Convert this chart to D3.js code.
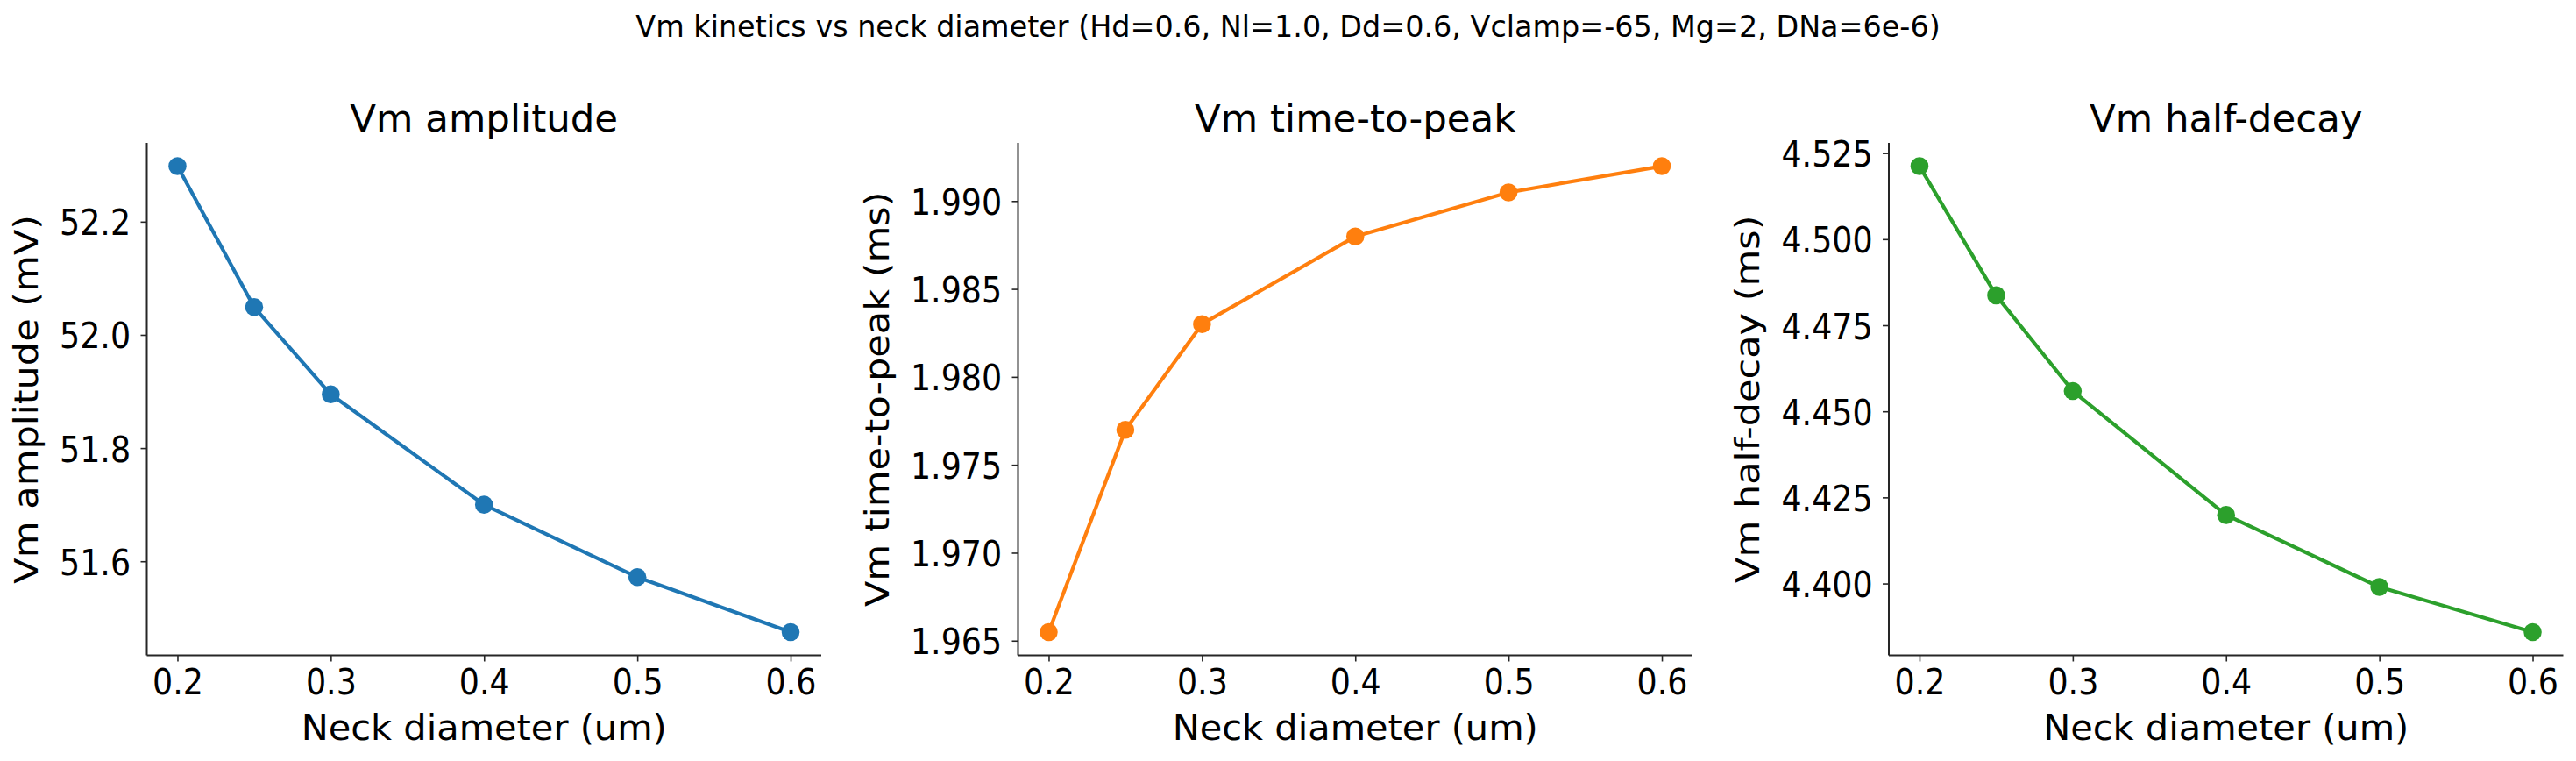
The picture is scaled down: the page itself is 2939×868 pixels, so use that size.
<!DOCTYPE html>
<html>
<head>
<meta charset="utf-8">
<script src="https://cdn.jsdelivr.net/npm/d3@7"></script>
<style>
  body { margin: 0; background: #fff; }
  svg { display: block; font-family: "DejaVu Sans", sans-serif; }
</style>
</head>
<body>
<script>
// neck diameters (um), shared by all three panels
const neckDiameter = [0.2, 0.25, 0.3, 0.4, 0.5, 0.6];
const xTickValues = [0.2, 0.3, 0.4, 0.5, 0.6];

// values
const amplitude = [52.298, 52.049, 51.895, 51.700, 51.572, 51.475];
const timeToPeak = [1.96549, 1.97699, 1.98300, 1.98798, 1.99049, 1.99198];
const halfDecay = [4.5212, 4.4837, 4.4559, 4.4199, 4.3990, 4.3859];

const amplitudeTicks = [51.6, 51.8, 52.0, 52.2];
const timeToPeakTicks = [1.965, 1.970, 1.975, 1.980, 1.985, 1.990];
const halfDecayTicks = [4.400, 4.425, 4.450, 4.475, 4.500, 4.525];

const panelTitles = ['Vm amplitude', 'Vm time-to-peak', 'Vm half-decay'];
const yLabels = ['Vm amplitude (mV)', 'Vm time-to-peak (ms)', 'Vm half-decay (ms)'];
const xLabel = 'Neck diameter (um)';
const suptitle = 'Vm kinetics vs neck diameter (Hd=0.6, Nl=1.0, Dd=0.6, Vclamp=-65, Mg=2, DNa=6e-6)';

const panels = [
  { values: amplitude, ticks: amplitudeTicks, fmt: '.1f', color: '#1f77b4' },
  { values: timeToPeak, ticks: timeToPeakTicks, fmt: '.3f', color: '#ff7f0e' },
  { values: halfDecay, ticks: halfDecayTicks, fmt: '.3f', color: '#2ca02c' }
];

const W = 2939, H = 868;
const panelLeft = [167.5, 1161.5, 2155];
const panelWidth = 769.5;
const plotTop = 163, plotBottom = 747.5;
const axisColor = '#262626';
const tickFont = 40, tickSqueeze = 0.91;   // the reference glyphs are a bit narrow

const svg = d3.select('body').append('svg')
  .attr('width', W)
  .attr('height', H);

svg.append('text')
  .attr('x', W / 2)
  .attr('y', 41.5)
  .attr('text-anchor', 'middle')
  .style('font-size', '33.4px')
  .text(suptitle);

// pad an extent by 5% on each side like matplotlib does
function padded(ext) {
  const m = (ext[1] - ext[0]) * 0.05;
  return [ext[0] - m, ext[1] + m];
}

panels.forEach((p, i) => {
  const g = svg.append('g')
    .attr('transform', `translate(${panelLeft[i]},0)`);

  const x = d3.scaleLinear()
    .domain(padded(d3.extent(neckDiameter)))
    .range([0, panelWidth]);
  const y = d3.scaleLinear()
    .domain(padded(d3.extent(p.values)))
    .range([plotBottom, plotTop]);

  // x axis
  const xAxis = g.append('g')
    .attr('transform', `translate(0,${plotBottom})`)
    .call(d3.axisBottom(x).tickValues(xTickValues).tickFormat(d3.format('.1f'))
      .tickSize(7).tickPadding(9));

  // y axis
  const yAxis = g.append('g')
    .call(d3.axisLeft(y).tickValues(p.ticks).tickFormat(d3.format(p.fmt))
      .tickSize(7).tickPadding(11));

  [xAxis, yAxis].forEach(a => {
    a.select('.domain')
      .attr('stroke', axisColor)
      .attr('stroke-width', 2);
    a.selectAll('.tick line')
      .attr('stroke', axisColor)
      .attr('stroke-width', 1.6);
    a.selectAll('.tick text')
      .attr('fill', '#000')
      .attr('transform', `scale(${tickSqueeze},1)`)
      .style('font-size', tickFont + 'px')
      .style('font-family', '"DejaVu Sans", sans-serif');
  });
  yAxis.selectAll('.tick text')
    .attr('x', -18.4 / tickSqueeze)
    .attr('dy', '0.375em');
  // drop the outer end caps matplotlib does not draw
  xAxis.select('.domain').attr('d', `M0,0H${panelWidth}`);
  yAxis.select('.domain').attr('d', `M0,${plotBottom}V${plotTop}`);

  // line and markers
  const pts = neckDiameter.map((d, k) => [d, p.values[k]]);
  g.append('path')
    .datum(pts)
    .attr('fill', 'none')
    .attr('stroke', p.color)
    .attr('stroke-width', 4.2)
    .attr('stroke-linejoin', 'round')
    .attr('d', d3.line().x(d => x(d[0])).y(d => y(d[1])));

  g.selectAll('circle')
    .data(pts)
    .enter()
    .append('circle')
    .attr('cx', d => x(d[0]))
    .attr('cy', d => y(d[1]))
    .attr('r', 10.3)
    .attr('fill', p.color);

  // panel title
  g.append('text')
    .attr('x', panelWidth / 2)
    .attr('y', 150)
    .attr('text-anchor', 'middle')
    .style('font-size', '43.5px')
    .text(panelTitles[i]);

  // x label
  g.append('text')
    .attr('x', panelWidth / 2)
    .attr('y', 844)
    .attr('text-anchor', 'middle')
    .style('font-size', '41.5px')
    .text(xLabel);

  // y label sits left of the widest tick label
  let minLeft = 0;
  yAxis.selectAll('.tick text').each(function() {
    const b = this.getBBox();
    minLeft = Math.min(minLeft, b.x * tickSqueeze);
  });
  g.append('text')
    .attr('transform', `translate(${minLeft - 25},${(plotTop + plotBottom) / 2}) scale(0.88,1) rotate(-90)`)
    .attr('text-anchor', 'middle')
    .style('font-size', '43px')
    .text(yLabels[i]);
});
</script>
</body>
</html>
